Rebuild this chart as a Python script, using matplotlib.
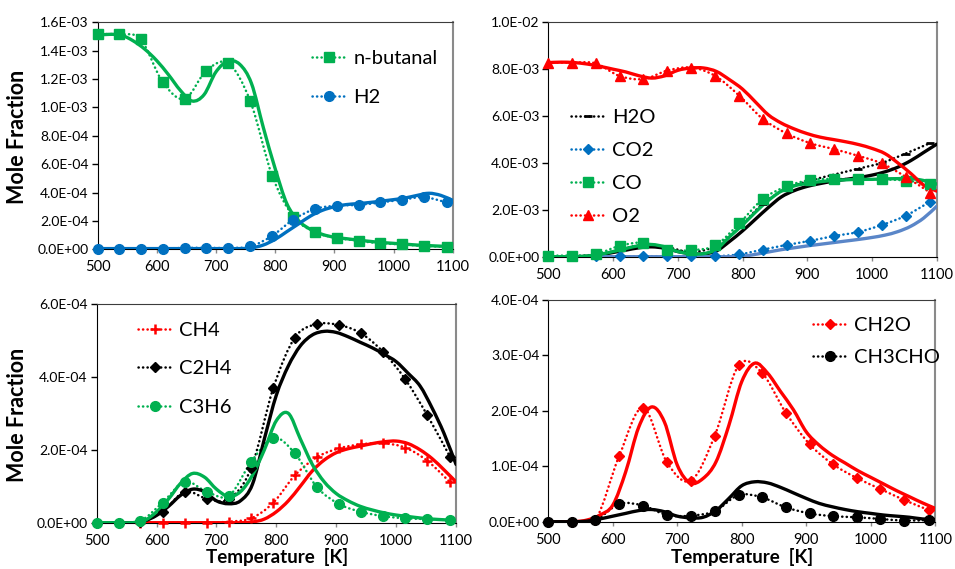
import numpy as np
import matplotlib
matplotlib.use("Agg")
import matplotlib.pyplot as plt
from matplotlib.path import Path
from matplotlib.patches import PathPatch
from matplotlib.lines import Line2D

plt.rcParams["font.family"] = ["Lato", "DejaVu Sans"]

# ── Data ──────────────────────────────────────────────────────────────
# experimental temperatures [K] and model grid [K]
T_EXP = [500, 537, 573, 610, 647, 684, 721, 758, 795, 831, 868, 905, 941, 978, 1015, 1052, 1090]
T_MOD = [500, 520, 540, 560, 580, 600, 620, 640, 660, 680, 700, 720, 740, 760, 780, 800,
         820, 840, 860, 880, 900, 920, 940, 960, 980, 1000, 1020, 1040, 1060, 1080, 1100]

# panel a: fuel and H2, units of 1e-4
butanal_exp = [15.15, 15.15, 14.8, 11.8, 10.6, 12.6, 13.1, 10.45, 5.2, 2.3, 1.2, 0.8, 0.6, 0.42, 0.35, 0.23, 0.19]
butanal_mod = [15.1, 15.15, 15.1, 14.7, 14.1, 13.3, 12.3, 11.2, 10.45, 10.9, 12.5, 13.25, 13.05, 11.7, 8.6, 5.7,
               3.2, 2.0, 1.4, 1.05, 0.85, 0.75, 0.65, 0.56, 0.48, 0.42, 0.36, 0.3, 0.26, 0.22, 0.2]
h2_exp = [0.05, 0.05, 0.05, 0.05, 0.1, 0.1, 0.1, 0.2, 0.95, 2.1, 2.85, 3.08, 3.13, 3.3, 3.5, 3.67, 3.3]
h2_mod = [0.05, 0.05, 0.05, 0.05, 0.05, 0.05, 0.05, 0.05, 0.05, 0.05, 0.05, 0.05, 0.05, 0.1, 0.3, 0.7,
          1.25, 1.8, 2.35, 2.75, 3.0, 3.15, 3.22, 3.3, 3.4, 3.5, 3.62, 3.8, 3.95, 3.8, 3.45]

# panel b: major species, units of 1e-3
h2o_exp = [0.02, 0.02, 0.05, 0.3, 0.5, 0.4, 0.2, 0.45, 1.25, 2.25, 2.9, 3.25, 3.5, 3.75, 4.0, 4.4, 4.85]
h2o_mod = [0.0, 0.0, 0.0, 0.02, 0.08, 0.18, 0.28, 0.38, 0.42, 0.36, 0.22, 0.13, 0.12, 0.25, 0.65, 1.1,
           1.6, 2.1, 2.55, 2.82, 3.0, 3.12, 3.22, 3.3, 3.38, 3.48, 3.62, 3.82, 4.1, 4.45, 4.8]
co2_exp = [0.02, 0.02, 0.02, 0.02, 0.02, 0.02, 0.02, 0.02, 0.1, 0.3, 0.5, 0.68, 0.88, 1.05, 1.35, 1.75, 2.35]
co2_mod = [0.0, 0.0, 0.0, 0.0, 0.0, 0.0, 0.0, 0.0, 0.0, 0.0, 0.0, 0.0, 0.0, 0.0, 0.0, 0.02,
           0.1, 0.2, 0.3, 0.38, 0.46, 0.53, 0.6, 0.67, 0.74, 0.82, 0.92, 1.07, 1.3, 1.65, 2.15]
co_exp = [0.05, 0.05, 0.1, 0.46, 0.6, 0.3, 0.28, 0.48, 1.42, 2.45, 3.0, 3.27, 3.32, 3.3, 3.3, 3.25, 3.1]
co_mod = [0.0, 0.0, 0.0, 0.03, 0.1, 0.22, 0.35, 0.47, 0.52, 0.42, 0.22, 0.13, 0.13, 0.32, 0.85, 1.35,
          1.9, 2.4, 2.8, 3.02, 3.13, 3.2, 3.25, 3.28, 3.3, 3.3, 3.32, 3.33, 3.33, 3.25, 3.1]
o2_exp = [8.28, 8.28, 8.25, 7.71, 7.58, 7.94, 8.07, 7.71, 6.87, 5.89, 5.26, 4.84, 4.59, 4.31, 3.98, 3.41, 2.73]
o2_mod = [8.28, 8.3, 8.28, 8.22, 8.12, 8.0, 7.88, 7.72, 7.62, 7.72, 7.95, 8.05, 8.05, 7.9, 7.55, 7.15,
          6.6, 6.05, 5.7, 5.45, 5.25, 5.1, 5.0, 4.9, 4.78, 4.62, 4.4, 4.0, 3.55, 3.05, 2.8]

# panel c: small hydrocarbons, units of 1e-4
ch4_exp = [0.0, 0.0, 0.0, 0.0, 0.0, 0.0, 0.03, 0.12, 0.55, 1.3, 1.8, 2.04, 2.15, 2.18, 2.06, 1.7, 1.11]
ch4_mod = [0.0, 0.0, 0.0, 0.0, 0.0, 0.0, 0.0, 0.0, 0.0, 0.0, 0.0, 0.0, 0.0, 0.02, 0.1, 0.3,
           0.6, 1.0, 1.42, 1.72, 1.92, 2.03, 2.1, 2.17, 2.22, 2.24, 2.17, 2.0, 1.76, 1.45, 1.12]
c2h4_exp = [0.0, 0.0, 0.03, 0.3, 0.85, 0.66, 0.65, 1.5, 3.7, 5.08, 5.45, 5.42, 5.2, 4.69, 3.94, 2.95, 1.81]
c2h4_mod = [0.0, 0.0, 0.0, 0.0, 0.05, 0.2, 0.45, 0.75, 0.92, 0.85, 0.6, 0.52, 0.6, 1.05, 2.3, 3.5,
            4.3, 4.85, 5.15, 5.25, 5.22, 5.1, 4.95, 4.8, 4.62, 4.42, 4.1, 3.75, 3.15, 2.45, 1.6]
c3h6_exp = [0.0, 0.0, 0.05, 0.55, 1.12, 0.85, 0.74, 1.67, 2.33, 1.9, 0.97, 0.51, 0.3, 0.18, 0.12, 0.1, 0.07]
c3h6_mod = [0.0, 0.0, 0.0, 0.0, 0.06, 0.3, 0.65, 1.08, 1.35, 1.25, 0.92, 0.72, 0.85, 1.3, 2.0, 2.8,
            3.0, 2.3, 1.6, 1.12, 0.8, 0.6, 0.45, 0.35, 0.27, 0.21, 0.17, 0.13, 0.1, 0.08, 0.06]

# panel d: aldehydes, units of 1e-4
ch2o_exp = [0.0, 0.0, 0.03, 1.19, 2.06, 1.07, 0.74, 1.55, 2.82, 2.69, 1.97, 1.4, 1.04, 0.79, 0.59, 0.39, 0.21]
ch2o_mod = [0.0, 0.0, 0.0, 0.03, 0.12, 0.3, 0.9, 1.7, 2.07, 1.8, 1.02, 0.7, 0.78, 1.08, 1.74, 2.53,
            2.86, 2.68, 2.35, 2.02, 1.62, 1.38, 1.2, 1.06, 0.92, 0.8, 0.68, 0.56, 0.45, 0.34, 0.24]
ch3cho_exp = [0.0, 0.0, 0.03, 0.32, 0.29, 0.12, 0.11, 0.19, 0.48, 0.44, 0.26, 0.15, 0.1, 0.08, 0.05, 0.02, 0.03]
ch3cho_mod = [0.0, 0.0, 0.0, 0.01, 0.05, 0.1, 0.15, 0.2, 0.22, 0.18, 0.1, 0.07, 0.08, 0.2, 0.42, 0.65,
              0.72, 0.7, 0.62, 0.52, 0.42, 0.33, 0.27, 0.22, 0.18, 0.15, 0.12, 0.1, 0.08, 0.05, 0.04]

GREEN, BLUE, RED, BLACK = "#00b050", "#0070c0", "#ff0000", "#000000"
LIGHT_BLUE = "#5a86c8"
DOT = (0, (0.1, 1.7))


# ── Helpers ───────────────────────────────────────────────────────────
def smooth_path(x, y):
    """Bezier path through the points (spreadsheet-style smoothed line)."""
    pts = np.column_stack([x, y]).astype(float)
    n = len(pts)
    verts, codes = [pts[0]], [Path.MOVETO]
    for i in range(n - 1):
        p0, p1 = pts[max(i - 1, 0)], pts[i]
        p2, p3 = pts[i + 1], pts[min(i + 2, n - 1)]
        verts += [p1 + (p2 - p0) / 6.0, p2 - (p3 - p1) / 6.0, p2]
        codes += [Path.CURVE4] * 3
    return Path(verts, codes)


def draw_series(ax, t_exp, exp, t_mod, mod, scale, color, marker, ms, mod_color=None, mew=1.0):
    y_exp = np.asarray(exp) * scale
    y_mod = np.asarray(mod) * scale
    ax.add_patch(PathPatch(smooth_path(t_exp, y_exp), fill=False, edgecolor=color,
                           lw=1.8, linestyle=DOT, capstyle="round", zorder=2))
    ax.plot(t_exp, y_exp, linestyle="none", marker=marker, ms=ms, color=color,
            mew=mew, clip_on=False, zorder=4)
    ax.add_patch(PathPatch(smooth_path(t_mod, y_mod), fill=False,
                           edgecolor=mod_color or color, lw=2.4, capstyle="round", zorder=3))
    return Line2D([], [], color=color, lw=1.8, linestyle=DOT, dash_capstyle="round",
                  marker=marker, ms=ms, mew=mew)


def style_axes(ax, ymax, ystep):
    ax.set_xlim(500, 1100)
    ax.set_ylim(0, ymax)
    ax.set_xticks(range(500, 1101, 100))
    yt = np.arange(0, ymax + ystep / 2, ystep)
    ax.set_yticks(yt)
    ax.set_yticklabels([f"{v:.1E}" for v in yt])
    ax.tick_params(axis="y", direction="out", length=4.5, width=1, color="black",
                   labelsize=10, pad=2)
    ax.tick_params(axis="x", direction="out", length=3, width=1, color="#8a8a8a",
                   labelsize=10.5, pad=5)
    ax.spines["left"].set_color("black")
    ax.spines["bottom"].set_color("black")
    ax.spines["top"].set_color("#3c3c3c")
    ax.spines["right"].set_color("#8a8a8a")
    ax.spines["right"].set_linewidth(1.5)


def add_legend(ax, handles, labels, x, y, spacing):
    leg = ax.legend(handles, labels, loc="center left", bbox_to_anchor=(x, y),
                    frameon=False, fontsize=14.5, borderpad=0, borderaxespad=0,
                    handlelength=1.7, handletextpad=0.35, labelspacing=spacing, numpoints=1)
    leg.set_zorder(6)


# ── Figure ────────────────────────────────────────────────────────────
W, H = 955, 569
fig = plt.figure(figsize=(W / 100, H / 100), dpi=100)


def axes_px(left, right, top, bottom):
    return fig.add_axes([left / W, 1 - bottom / H, (right - left) / W, (bottom - top) / H])


ax_a = axes_px(97.5, 452.7, 22.3, 249.3)
ax_b = axes_px(548.3, 936.7, 22.3, 256.7)
ax_c = axes_px(96.7, 456.0, 304.0, 522.7)
ax_d = axes_px(548.3, 935.3, 300.0, 521.7)

# a) n-butanal + H2
h1 = draw_series(ax_a, T_EXP, butanal_exp, T_MOD, butanal_mod, 1e-4, GREEN, "s", 6.5)
h2 = draw_series(ax_a, T_EXP, h2_exp, T_MOD, h2_mod, 1e-4, BLUE, "o", 7)
style_axes(ax_a, 1.6e-3, 2e-4)
add_legend(ax_a, [h1, h2], ["n-butanal", "H2"], 0.604, 0.755, 1.1)

# b) H2O, CO2, CO, O2
hb1 = draw_series(ax_b, T_EXP, h2o_exp, T_MOD, h2o_mod, 1e-3, BLACK, "_", 6, mew=2)
hb2 = draw_series(ax_b, T_EXP, co2_exp, T_MOD, co2_mod, 1e-3, BLUE, "D", 5, mod_color=LIGHT_BLUE)
hb3 = draw_series(ax_b, T_EXP, co_exp, T_MOD, co_mod, 1e-3, GREEN, "s", 6.5)
hb4 = draw_series(ax_b, T_EXP, o2_exp, T_MOD, o2_mod, 1e-3, RED, "^", 7)
style_axes(ax_b, 1.0e-2, 2e-3)
add_legend(ax_b, [hb1, hb2, hb3, hb4], ["H2O", "CO2", "CO", "O2"], 0.058, 0.382, 0.78)

# c) CH4, C2H4, C3H6
hc1 = draw_series(ax_c, T_EXP, ch4_exp, T_MOD, ch4_mod, 1e-4, RED, "+", 7, mew=1.8)
hc2 = draw_series(ax_c, T_EXP, c2h4_exp, T_MOD, c2h4_mod, 1e-4, BLACK, "D", 5)
hc3 = draw_series(ax_c, T_EXP, c3h6_exp, T_MOD, c3h6_mod, 1e-4, GREEN, "o", 7)
style_axes(ax_c, 6e-4, 2e-4)
add_legend(ax_c, [hc1, hc2, hc3], ["CH4", "C2H4", "C3H6"], 0.115, 0.704, 1.06)

# d) CH2O, CH3CHO
hd1 = draw_series(ax_d, T_EXP, ch2o_exp, T_MOD, ch2o_mod, 1e-4, RED, "D", 5.5)
hd2 = draw_series(ax_d, T_EXP, ch3cho_exp, T_MOD, ch3cho_mod, 1e-4, BLACK, "o", 7)
style_axes(ax_d, 4e-4, 1e-4)
add_legend(ax_d, [hd1, hd2], ["CH2O", "CH3CHO"], 0.684, 0.812, 0.76)

# axis titles
for yc in (137, 415):
    fig.text(18 / W, 1 - yc / H, "Mole Fraction", rotation=90, ha="center", va="center",
             fontsize=15.5, fontweight="bold")
for xc in (277, 742):
    fig.text(xc / W, 1 - 557 / H, "Temperature  [K]", ha="center", va="center",
             fontsize=13.5, fontweight="bold")

fig.savefig("out.png", dpi=100)
